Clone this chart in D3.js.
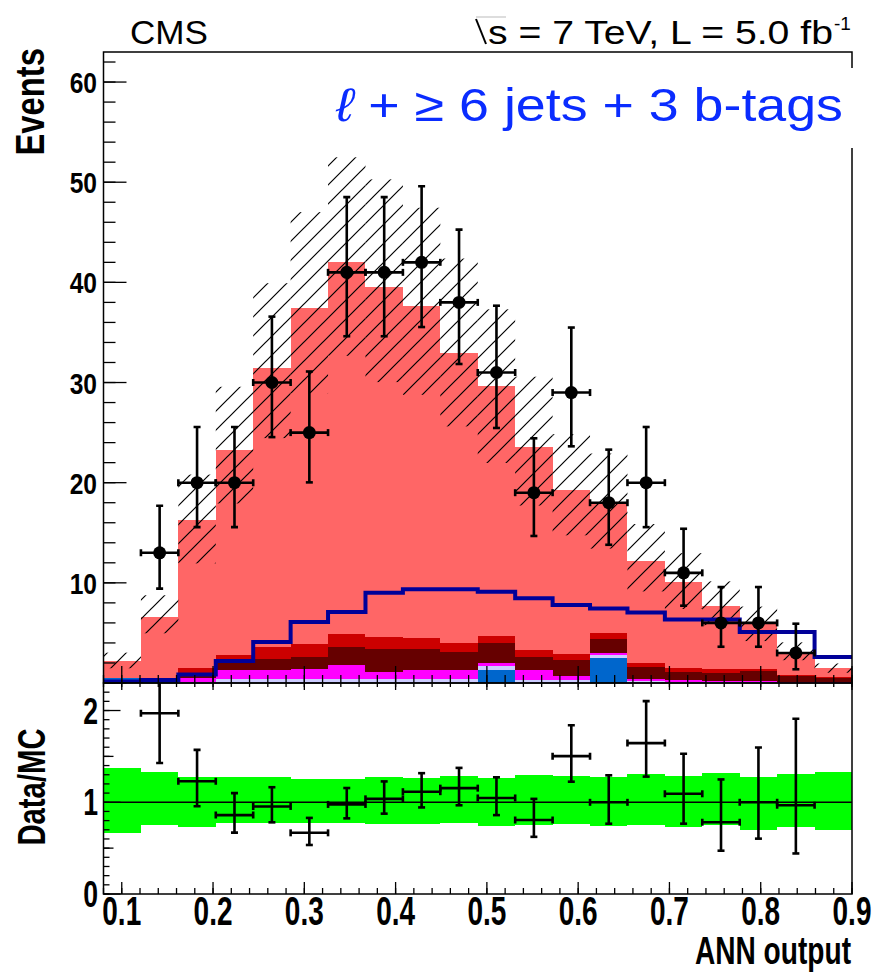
<!DOCTYPE html>
<html>
<head>
<meta charset="utf-8">
<script src="https://cdn.jsdelivr.net/npm/d3@7"></script>
<style>
  html, body { margin: 0; padding: 0; background: #fff; }
  svg { display: block; }
</style>
</head>
<body>
<script>
// ---- binning and tick labels ----
const binLow = 0.08;
const binWidth = 0.041;
const xTickLabels = ["0.1", "0.2", "0.3", "0.4", "0.5", "0.6", "0.7", "0.8", "0.9"];
const yTickLabels = ["10", "20", "30", "40", "50", "60"];
const ratioTickLabels = ["0", "1", "2"];

// ---- observed events per bin ----
const dataCounts  = [0, 13, 20, 20, 30, 25, 41, 41, 42, 38, 31, 19, 29, 18, 20, 11, 6, 6, 3, 0];
const dataErrUp   = [0, 4.69, 5.56, 5.56, 6.58, 6.10, 7.51, 7.51, 7.60, 7.27, 6.67, 5.43, 6.49, 5.30, 5.56, 4.40, 3.58, 3.58, 2.92, 0];
const dataErrDown = [0, 3.58, 4.44, 4.44, 5.45, 4.97, 6.38, 6.38, 6.46, 6.15, 5.54, 4.32, 5.37, 4.20, 4.44, 3.28, 2.38, 2.38, 1.63, 0];

// ---- stacked background expectation, bottom to top ----
const bkgBlue     = [0.45, 0.05, 0, 0, 0, 0, 0, 0, 0, 0, 1.3, 0, 0, 2.45, 0, 0, 0, 0, 0, 0];
const bkgLavender = [0, 0, 0.1, 0.37, 0.37, 0.37, 0.37, 0.37, 0.37, 0.37, 0.4, 0.3, 0.3, 0.35, 0.2, 0.1, 0.05, 0.05, 0.03, 0.02];
const bkgMagenta  = [0, 0.1, 0.37, 0.93, 0.93, 1.0, 1.43, 0.76, 0.93, 0.93, 0.25, 0.96, 0.4, 0.15, 0.17, 0.23, 0.15, 0.1, 0.07, 0.03];
const bkgMaroon   = [0, 0.15, 0.56, 0.8, 1.06, 1.26, 1.83, 2.27, 2.1, 1.83, 2.07, 1.34, 1.6, 1.44, 1.26, 0.8, 0.8, 1.0, 0.55, 0.4];
const bkgRed      = [0, 0.1, 0.44, 0.65, 1.27, 1.26, 1.26, 1.23, 1.06, 0.9, 0.69, 0.66, 0.6, 0.62, 0.33, 0.34, 0.37, 0.25, 0.15, 0.12];
const bkgSalmon   = [1.75, 6.2, 14.8, 20.5, 27.8, 33.6, 37.1, 34.9, 33.2, 28.9, 24.9, 20.3, 16.4, 13.0, 10.2, 8.6, 6.3, 4.6, 2.3, 0.9];

// ---- signal shape (line) ----
const signal = [0.15, 0.3, 0.85, 2.2, 4.1, 6.1, 7.1, 9.0, 9.35, 9.35, 9.1, 8.45, 7.8, 7.45, 7.05, 6.35, 6.35, 5.1, 5.1, 2.6];

// ---- relative uncertainty of the expectation (up / down) ----
const bandUp   = [1.377, 1.327, 1.279, 1.272, 1.27, 1.254, 1.25, 1.272, 1.26, 1.287, 1.26, 1.298, 1.287, 1.272, 1.305, 1.287, 1.323, 1.272, 1.309, 1.327];
const bandDown = [0.668, 0.752, 0.734, 0.771, 0.778, 0.771, 0.778, 0.76, 0.764, 0.778, 0.742, 0.752, 0.764, 0.745, 0.752, 0.734, 0.752, 0.698, 0.734, 0.698];

const stackKeys   = ["blue", "lavender", "magenta", "maroon", "red", "salmon"];
const stackColors = { blue: "#0066cc", lavender: "#ccccff", magenta: "#ff00ff", maroon: "#660000", red: "#cc0000", salmon: "#ff6666" };
const stackSeries = { blue: bkgBlue, lavender: bkgLavender, magenta: bkgMagenta, maroon: bkgMaroon, red: bkgRed, salmon: bkgSalmon };

const nBins = dataCounts.length;
const edges = d3.range(nBins + 1).map(i => binLow + i * binWidth);
const rows = d3.range(nBins).map(i => {
  const r = { bin: i };
  stackKeys.forEach(k => r[k] = stackSeries[k][i]);
  return r;
});
const stacked = d3.stack().keys(stackKeys)(rows);
const mcTotal = rows.map(r => d3.sum(stackKeys, k => r[k]));

// ---- layout ----
const W = 878, H = 974;
const L = 103.5, R = 852, TOP = 52, MID = 683, BOT = 894;
const FONT = "'Liberation Sans', Arial, Helvetica, sans-serif";

const x  = d3.scaleLinear().domain([0.08, 0.9]).range([L, R]);
const y  = d3.scaleLinear().domain([0, 63]).range([MID, TOP]);
const yr = d3.scaleLinear().domain([0, 2.3]).range([BOT, MID]);

const svg = d3.select("body").append("svg").attr("width", W).attr("height", H);
svg.append("rect").attr("width", W).attr("height", H).attr("fill", "#fff");

const defs = svg.append("defs");
defs.append("clipPath").attr("id", "clipMain")
  .append("rect").attr("x", L).attr("y", TOP).attr("width", R - L).attr("height", MID - TOP);
defs.append("clipPath").attr("id", "clipRatio")
  .append("rect").attr("x", L).attr("y", MID).attr("width", R - L).attr("height", BOT - MID);
const hatch = defs.append("pattern").attr("id", "hatch")
  .attr("patternUnits", "userSpaceOnUse").attr("width", 19).attr("height", 19);
hatch.append("path").attr("d", "M0,19 L19,0 M-5,5 L5,-5 M14,24 L24,14")
  .attr("stroke", "#000").attr("stroke-width", 1.2).attr("fill", "none");

function txt(parent, o) {
  const g = parent.append("g")
    .attr("transform", `translate(${o.x},${o.y}) rotate(${o.rot || 0}) scale(${o.sx || 1},1)`);
  const t = g.append("text")
    .attr("text-anchor", o.anchor || "start")
    .attr("font-family", FONT)
    .attr("font-size", o.size)
    .attr("font-weight", o.weight || "normal")
    .attr("fill", o.fill || "#000")
    .text(o.text);
  if (o.len) t.attr("textLength", o.len).attr("lengthAdjust", "spacingAndGlyphs");
  return t;
}

// ================= main panel =================
const main = svg.append("g").attr("clip-path", "url(#clipMain)");

// stacked backgrounds
const stackG = main.append("g").attr("shape-rendering", "crispEdges");
stacked.forEach(layer => {
  stackG.append("g").attr("fill", stackColors[layer.key])
    .selectAll("rect")
    .data(layer.filter(d => d[1] - d[0] > 0))
    .join("rect")
    .attr("x", d => x(edges[d.data.bin]))
    .attr("width", d => x(edges[d.data.bin + 1]) - x(edges[d.data.bin]))
    .attr("y", d => y(d[1]))
    .attr("height", d => y(d[0]) - y(d[1]));
});

// hatched uncertainty band
main.append("g").selectAll("rect")
  .data(d3.range(nBins))
  .join("rect")
  .attr("x", i => x(edges[i]))
  .attr("width", i => x(edges[i + 1]) - x(edges[i]))
  .attr("y", i => y(mcTotal[i] * bandUp[i]))
  .attr("height", i => y(mcTotal[i] * bandDown[i]) - y(mcTotal[i] * bandUp[i]))
  .attr("fill", "url(#hatch)");

// signal line
const sigPts = signal.map((v, i) => [edges[i], v]).concat([[edges[nBins], signal[nBins - 1]]]);
main.append("path")
  .attr("d", d3.line().x(d => x(d[0])).y(d => y(d[1])).curve(d3.curveStepAfter)(sigPts))
  .attr("fill", "none").attr("stroke", "#000099").attr("stroke-width", 4);

// data points
function errorCross(g, i, yc, yHi, yLo, hiClipped) {
  const xl = x(edges[i]), xh = x(edges[i + 1]), xc = (xl + xh) / 2;
  const cap = 3.5;
  const segs = [
    [xl, yc, xh, yc], [xc, yHi, xc, yLo],
    [xl, yc - cap, xl, yc + cap], [xh, yc - cap, xh, yc + cap],
    [xc - cap, yLo, xc + cap, yLo]
  ];
  if (!hiClipped) segs.push([xc - cap, yHi, xc + cap, yHi]);
  g.selectAll(null).data(segs).join("line")
    .attr("x1", d => d[0]).attr("y1", d => d[1]).attr("x2", d => d[2]).attr("y2", d => d[3]);
}
const dataG = main.append("g").attr("stroke", "#000").attr("stroke-width", 2.6);
d3.range(nBins).filter(i => dataCounts[i] > 0).forEach(i => {
  errorCross(dataG, i, y(dataCounts[i]), y(dataCounts[i] + dataErrUp[i]), y(dataCounts[i] - dataErrDown[i]), false);
});
main.append("g").selectAll("circle")
  .data(d3.range(nBins).filter(i => dataCounts[i] > 0))
  .join("circle")
  .attr("cx", i => x(edges[i] + binWidth / 2))
  .attr("cy", i => y(dataCounts[i]))
  .attr("r", 6.5).attr("fill", "#000");

// ================= ratio panel =================
const ratio = svg.append("g").attr("clip-path", "url(#clipRatio)");
ratio.append("g").attr("fill", "#00ff00").attr("shape-rendering", "crispEdges")
  .selectAll("rect").data(d3.range(nBins)).join("rect")
  .attr("x", i => x(edges[i]))
  .attr("width", i => x(edges[i + 1]) - x(edges[i]))
  .attr("y", i => yr(bandUp[i]))
  .attr("height", i => yr(bandDown[i]) - yr(bandUp[i]));
ratio.append("line")
  .attr("x1", L).attr("x2", R).attr("y1", yr(1)).attr("y2", yr(1))
  .attr("stroke", "#000").attr("stroke-width", 1.6);
const ratioG = ratio.append("g").attr("stroke", "#000").attr("stroke-width", 2.6);
d3.range(nBins).filter(i => dataCounts[i] > 0).forEach(i => {
  const m = mcTotal[i];
  const hi = (dataCounts[i] + dataErrUp[i]) / m;
  const clipped = hi > 2.3;
  errorCross(ratioG, i, yr(dataCounts[i] / m), yr(Math.min(hi, 2.32)),
    yr((dataCounts[i] - dataErrDown[i]) / m), clipped);
});

// ================= axes and frames =================
const axes = svg.append("g");
const xMajor = xTickLabels.map(Number);
const xMinor = d3.range(42).map(i => +(0.08 + i * 0.02).toFixed(2));

function ticksX(yPos, len, values) {
  axes.append("g").attr("stroke", "#000").attr("stroke-width", 1.3)
    .selectAll("line").data(values).join("line")
    .attr("x1", v => x(v)).attr("x2", v => x(v))
    .attr("y1", yPos).attr("y2", yPos + len);
}
function ticksY(scale, len, values) {
  axes.append("g").attr("stroke", "#000").attr("stroke-width", 1.3)
    .selectAll("line").data(values).join("line")
    .attr("x1", L).attr("x2", L + len)
    .attr("y1", v => scale(v)).attr("y2", v => scale(v));
}
// main panel x ticks (no labels)
ticksX(MID, -17, xMajor);
ticksX(MID, -8, xMinor);
// ratio panel top and bottom ticks
ticksX(MID, 7, xMajor);
ticksX(MID, 4, xMinor);
ticksX(BOT, -12, xMajor);
ticksX(BOT, -6, xMinor);
// main panel y ticks
ticksY(y, 23, d3.range(0, 61, 10));
ticksY(y, 12, d3.range(0, 64, 2));
// ratio panel y ticks
ticksY(yr, 17, ratioTickLabels.map(Number));
ticksY(yr, 10, [0.5, 1.5]);
ticksY(yr, 6, d3.range(0, 24).map(i => i / 10));

// frames
axes.append("rect").attr("x", L).attr("y", TOP).attr("width", R - L).attr("height", MID - TOP)
  .attr("fill", "none").attr("stroke", "#000").attr("stroke-width", 1.5);
axes.append("rect").attr("x", L).attr("y", MID).attr("width", R - L).attr("height", BOT - MID)
  .attr("fill", "none").attr("stroke", "#000").attr("stroke-width", 1.5);

// tick labels
xTickLabels.forEach(s => txt(svg, { x: x(+s), y: 925, text: s, size: 40, weight: "bold", anchor: "middle", sx: 0.7 }));
yTickLabels.forEach(s => txt(svg, { x: 97, y: y(+s) + 11, text: s, size: 30, weight: "bold", anchor: "end", sx: 0.82 }));
ratioTickLabels.forEach(s => txt(svg, { x: 98, y: yr(+s) + 13, text: s, size: 37, weight: "bold", anchor: "end", sx: 0.72 }));

// axis titles
txt(svg, { x: 851, y: 964, text: "ANN output", size: 38, weight: "bold", anchor: "end", sx: 0.74 });
txt(svg, { x: 44, y: 48, text: "Events", size: 40, weight: "bold", anchor: "end", rot: -90, sx: 0.82 });
txt(svg, { x: 45, y: 787, text: "Data/MC", size: 38, weight: "bold", anchor: "middle", rot: -90, sx: 0.77 });

// header
txt(svg, { x: 130, y: 44, text: "CMS", size: 33, len: 78 });
svg.append("line").attr("x1", 476).attr("y1", 19).attr("x2", 486).attr("y2", 44)
  .attr("stroke", "#000").attr("stroke-width", 2);
svg.append("line").attr("x1", 476).attr("y1", 17).attr("x2", 506).attr("y2", 17)
  .attr("stroke", "#bbb").attr("stroke-width", 1);
txt(svg, { x: 488, y: 44, text: "s = 7 TeV, L = 5.0 fb", size: 33, len: 345 });
txt(svg, { x: 834, y: 30, text: "-1", size: 19 });

// channel label in a white box
svg.append("rect").attr("x", 330).attr("y", 68).attr("width", 540).attr("height", 80).attr("fill", "#fff");
const title = svg.append("text")
  .attr("x", 336).attr("y", 121)
  .attr("font-family", FONT).attr("font-size", 47).attr("fill", "#0a2cff")
  .attr("textLength", 507).attr("lengthAdjust", "spacingAndGlyphs");
title.append("tspan").attr("font-style", "italic").text("\u2113");
title.append("tspan").text(" + \u2265 6 jets + 3 b-tags");
</script>
</body>
</html>
